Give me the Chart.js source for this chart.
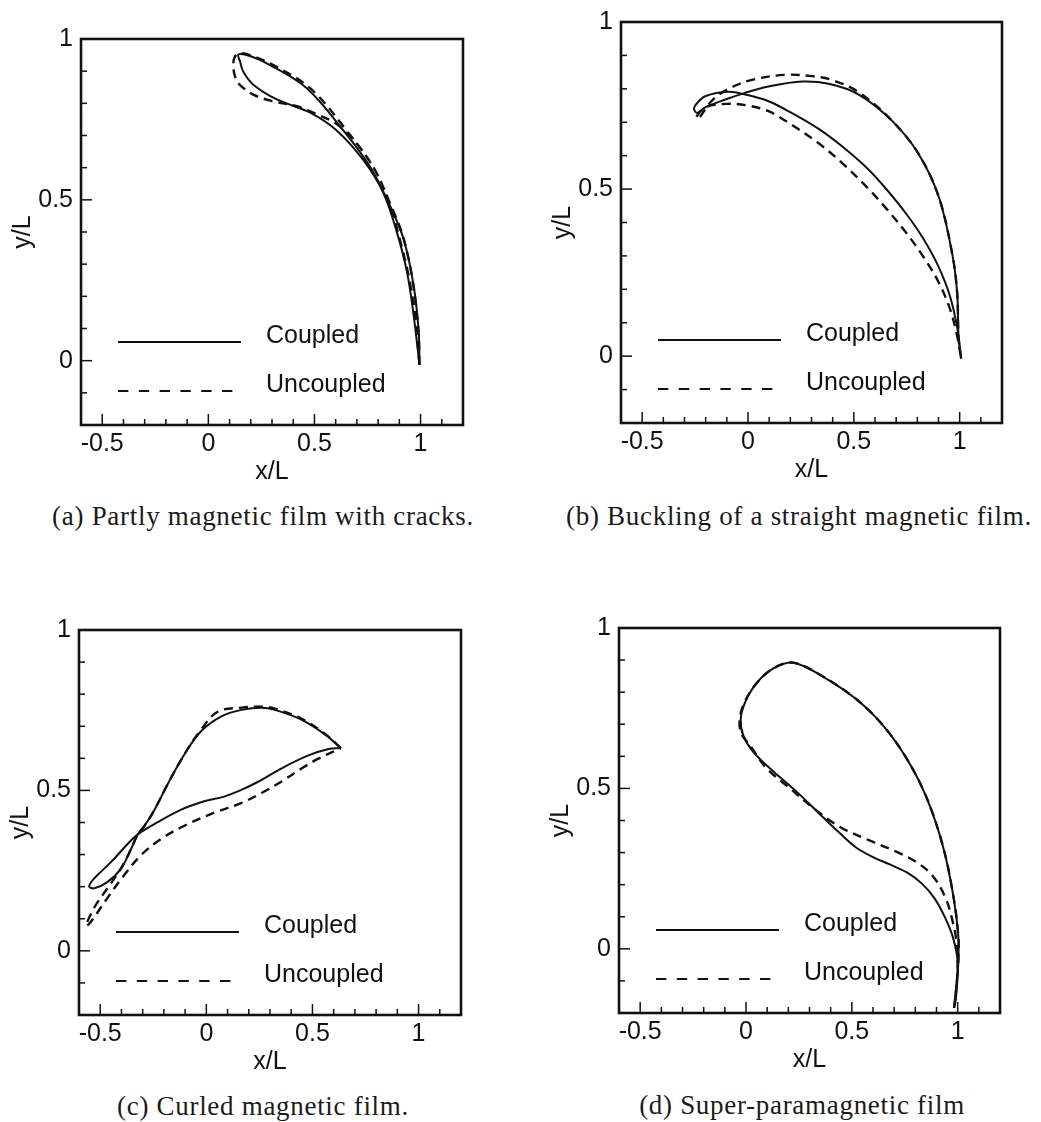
<!DOCTYPE html>
<html>
<head>
<meta charset="utf-8">
<script src="https://cdn.jsdelivr.net/npm/chart.js@4.4.0/dist/chart.umd.min.js"></script>
<style>
  body { margin: 0; background: #fff; }
  #page { position: relative; width: 1041px; height: 1122px; overflow: hidden; background: #fff; }
  #page canvas { position: absolute; }
  .caption {
    position: absolute;
    transform: translate(-50%, -50%);
    white-space: nowrap;
    font-family: 'Liberation Serif', 'DejaVu Serif', serif;
    font-size: 27px;
    letter-spacing: 0.7px;
    color: #1a1a1a;
  }
</style>
</head>
<body>
<div id="page">
  <canvas id="chartA"></canvas>
  <canvas id="chartB"></canvas>
  <canvas id="chartC"></canvas>
  <canvas id="chartD"></canvas>
  <div class="caption" id="capA" style="left:263px; top:516px;"></div>
  <div class="caption" id="capB" style="left:799px; top:516px;"></div>
  <div class="caption" id="capC" style="left:263px; top:1106px;"></div>
  <div class="caption" id="capD" style="left:802px; top:1105px;"></div>
</div>
<script>
// labels
const seriesLabels = ['Coupled', 'Uncoupled'];
const xTickValues = [-0.5, 0, 0.5, 1];
const xTickLabels = ['-0.5', '0', '0.5', '1'];
const yTickValues = [0, 0.5, 1];
const yTickLabels = ['0', '0.5', '1'];
const captions = [
    '(a) Partly magnetic film with cracks.',
    '(b) Buckling of a straight magnetic film.',
    '(c) Curled magnetic film.',
    '(d) Super-paramagnetic film'
];

// (a) partly magnetic film with cracks - [x/L, y/L]
const coupledA = [
    [0.995, -0.013], [0.991, 0.092], [0.967, 0.235], [0.920, 0.378], [0.857, 0.480],
    [0.763, 0.602], [0.637, 0.715], [0.464, 0.847], [0.291, 0.919], [0.197, 0.947],
    [0.142, 0.952], [0.150, 0.929], [0.165, 0.898], [0.212, 0.858], [0.323, 0.812],
    [0.480, 0.771], [0.606, 0.715], [0.731, 0.623], [0.825, 0.521], [0.889, 0.398],
    [0.936, 0.276], [0.967, 0.143], [0.995, -0.013]
];
const uncoupledA = [
    [0.995, -0.013], [0.990, 0.092], [0.966, 0.235], [0.921, 0.378], [0.862, 0.480],
    [0.777, 0.602], [0.652, 0.715], [0.480, 0.847], [0.300, 0.921], [0.200, 0.949],
    [0.142, 0.955], [0.122, 0.940], [0.118, 0.915], [0.125, 0.885], [0.145, 0.860],
    [0.212, 0.827], [0.307, 0.806], [0.417, 0.791], [0.511, 0.766], [0.606, 0.735],
    [0.700, 0.674], [0.794, 0.582], [0.857, 0.480], [0.905, 0.370], [0.948, 0.250],
    [0.977, 0.120], [0.995, -0.013]
];

// (b) buckling of a straight magnetic film
const coupledB = [
    [1.007, -0.007], [0.995, 0.053], [0.988, 0.191], [0.964, 0.309], [0.901, 0.477],
    [0.806, 0.605], [0.681, 0.704], [0.523, 0.783], [0.381, 0.815], [0.255, 0.822],
    [0.097, 0.807], [-0.013, 0.788], [-0.107, 0.768], [-0.200, 0.745], [-0.240, 0.728],
    [-0.255, 0.740], [-0.241, 0.757], [-0.202, 0.778], [-0.092, 0.791], [-0.013, 0.783],
    [0.097, 0.763], [0.200, 0.730], [0.334, 0.680], [0.450, 0.625], [0.570, 0.558],
    [0.660, 0.495], [0.750, 0.424], [0.830, 0.350], [0.900, 0.268], [0.955, 0.178],
    [0.990, 0.080], [1.007, -0.007]
];
const uncoupledB = [
    [1.007, -0.007], [0.995, 0.053], [0.988, 0.191], [0.964, 0.309], [0.901, 0.477],
    [0.806, 0.605], [0.681, 0.704], [0.523, 0.790], [0.400, 0.826], [0.302, 0.838],
    [0.176, 0.842], [0.019, 0.827], [-0.092, 0.800], [-0.170, 0.765], [-0.235, 0.710],
    [-0.245, 0.715], [-0.200, 0.745], [-0.100, 0.755], [0.000, 0.750], [0.097, 0.733],
    [0.200, 0.695], [0.334, 0.637], [0.450, 0.575], [0.570, 0.500], [0.660, 0.437],
    [0.750, 0.367], [0.830, 0.296], [0.900, 0.222], [0.955, 0.140], [0.990, 0.055],
    [1.007, -0.007]
];

// (c) curled magnetic film
const coupledC = [
    [0.634, 0.632], [0.560, 0.674], [0.450, 0.720], [0.323, 0.751], [0.260, 0.758],
    [0.166, 0.751], [0.071, 0.731], [-0.024, 0.685], [-0.103, 0.613], [-0.181, 0.521],
    [-0.244, 0.440], [-0.292, 0.389], [-0.323, 0.363], [-0.355, 0.317], [-0.402, 0.256],
    [-0.465, 0.215], [-0.528, 0.195], [-0.552, 0.200], [-0.536, 0.220], [-0.497, 0.246],
    [-0.434, 0.287], [-0.371, 0.333], [-0.323, 0.363], [-0.229, 0.401], [-0.118, 0.440],
    [-0.010, 0.466], [0.080, 0.480], [0.160, 0.500], [0.244, 0.527], [0.355, 0.569],
    [0.481, 0.609], [0.576, 0.629], [0.634, 0.632]
];
const uncoupledC = [
    [0.634, 0.632], [0.560, 0.676], [0.450, 0.723], [0.323, 0.755], [0.260, 0.761],
    [0.166, 0.758], [0.055, 0.746], [-0.024, 0.690], [-0.103, 0.613], [-0.181, 0.521],
    [-0.244, 0.440], [-0.292, 0.389], [-0.323, 0.363], [-0.360, 0.310], [-0.402, 0.257],
    [-0.465, 0.196], [-0.528, 0.135], [-0.568, 0.078], [-0.555, 0.082], [-0.528, 0.105],
    [-0.465, 0.166], [-0.386, 0.237], [-0.308, 0.298], [-0.213, 0.349], [-0.103, 0.390],
    [0.039, 0.431], [0.166, 0.461], [0.260, 0.492], [0.355, 0.528], [0.450, 0.569],
    [0.528, 0.599], [0.634, 0.632]
];

// (d) super-paramagnetic film
const coupledD = [
    [0.983, -0.184], [0.995, -0.110], [1.003, -0.040], [1.003, 0.040], [0.980, 0.163],
    [0.932, 0.316], [0.854, 0.470], [0.759, 0.593], [0.649, 0.695], [0.523, 0.777],
    [0.365, 0.848], [0.224, 0.892], [0.129, 0.874], [0.050, 0.828], [-0.005, 0.767],
    [-0.025, 0.715], [-0.013, 0.665], [0.035, 0.613], [0.131, 0.552], [0.239, 0.490],
    [0.350, 0.419], [0.444, 0.360], [0.520, 0.316], [0.600, 0.286], [0.680, 0.263],
    [0.760, 0.238], [0.830, 0.204], [0.890, 0.158], [0.940, 0.098], [0.978, 0.035],
    [1.000, -0.041], [0.992, -0.154], [0.983, -0.184]
];
const uncoupledD = [
    [0.983, -0.184], [0.995, -0.110], [1.003, -0.040], [1.003, 0.040], [0.980, 0.163],
    [0.932, 0.316], [0.854, 0.470], [0.759, 0.593], [0.649, 0.695], [0.523, 0.777],
    [0.365, 0.848], [0.224, 0.892], [0.129, 0.874], [0.050, 0.828], [-0.008, 0.767],
    [-0.030, 0.715], [-0.022, 0.670], [0.019, 0.634], [0.098, 0.562], [0.208, 0.500],
    [0.318, 0.439], [0.444, 0.380], [0.586, 0.337], [0.712, 0.302], [0.806, 0.270],
    [0.885, 0.225], [0.945, 0.155], [0.978, 0.081], [0.995, 0.020], [1.000, -0.050],
    [0.990, -0.150], [0.983, -0.184]
];

Chart.defaults.font.family = "'Liberation Sans', Arial, sans-serif";
Chart.defaults.font.size = 25;
Chart.defaults.color = '#111';

const INK = '#111';
const PAD_TOP = 18, PAD_RIGHT = 20, Y_AXIS_W = 81, X_AXIS_H = 62;

function toPoints(arr) {
    return arr.map(p => ({ x: p[0], y: p[1] }));
}

function labelFor(v, values, labels) {
    const i = values.findIndex(t => Math.abs(t - v) < 1e-6);
    return i >= 0 ? labels[i] : '';
}

function isMajor(v) {
    return Math.abs(v * 2 - Math.round(v * 2)) < 1e-6;
}

// box, inward ticks and the legend inside the plot
const framePlugin = {
    id: 'frame',
    afterDraw(chart) {
        const { ctx, chartArea: a, scales } = chart;
        ctx.save();
        ctx.strokeStyle = INK;
        ctx.fillStyle = INK;

        ctx.lineWidth = 1.5;
        scales.x.ticks.forEach(t => {
            const px = scales.x.getPixelForValue(t.value);
            ctx.beginPath();
            ctx.moveTo(px, a.bottom);
            ctx.lineTo(px, a.bottom - (isMajor(t.value) ? 11 : 6));
            ctx.stroke();
        });
        scales.y.ticks.forEach(t => {
            const py = scales.y.getPixelForValue(t.value);
            ctx.beginPath();
            ctx.moveTo(a.left, py);
            ctx.lineTo(a.left + (isMajor(t.value) ? 11 : 6), py);
            ctx.stroke();
        });

        ctx.lineWidth = 2.6;
        ctx.strokeRect(a.left, a.top, a.right - a.left, a.bottom - a.top);

        const rows = [a.bottom - 83, a.bottom - 34];
        ctx.font = "25px 'Liberation Sans', Arial, sans-serif";
        ctx.textBaseline = 'middle';
        chart.data.datasets.forEach((ds, i) => {
            ctx.lineWidth = 2;
            ctx.setLineDash(i ? [10.4, 10.4] : []);
            ctx.beginPath();
            ctx.moveTo(a.left + 37, rows[i]);
            ctx.lineTo(a.left + (i ? 152 : 160), rows[i]);
            ctx.stroke();
            ctx.setLineDash([]);
            ctx.fillText(ds.label, a.left + 185, rows[i] - 6);
        });
        ctx.restore();
    }
};

function makeChart(id, box, coupled, uncoupled) {
    const canvas = document.getElementById(id);
    canvas.width = Y_AXIS_W + (box.r - box.l) + PAD_RIGHT;
    canvas.height = PAD_TOP + (box.b - box.t) + X_AXIS_H;
    canvas.style.left = (box.l - Y_AXIS_W) + 'px';
    canvas.style.top = (box.t - PAD_TOP) + 'px';

    return new Chart(canvas.getContext('2d'), {
        type: 'scatter',
        data: {
            datasets: [{
                label: seriesLabels[0],
                data: toPoints(coupled),
                showLine: true,
                borderColor: INK,
                borderWidth: 2,
                pointRadius: 0,
                tension: 0.35,
                fill: false
            }, {
                label: seriesLabels[1],
                data: toPoints(uncoupled),
                showLine: true,
                borderColor: INK,
                borderWidth: 2.4,
                borderDash: [9, 6],
                pointRadius: 0,
                tension: 0.35,
                fill: false
            }]
        },
        options: {
            responsive: false,
            animation: false,
            devicePixelRatio: 1,
            layout: { padding: { top: PAD_TOP, right: PAD_RIGHT, left: 0, bottom: 0 } },
            plugins: {
                legend: { display: false },
                tooltip: { enabled: false }
            },
            scales: {
                x: {
                    type: 'linear',
                    min: -0.6,
                    max: 1.2,
                    grid: { display: false, drawTicks: false },
                    border: { display: false },
                    ticks: {
                        stepSize: 0.1,
                        autoSkip: false,
                        maxRotation: 0,
                        padding: 4,
                        callback: v => labelFor(v, xTickValues, xTickLabels)
                    },
                    title: { display: true, text: 'x/L', padding: { top: 4, bottom: 0 } },
                    afterFit: s => { s.height = X_AXIS_H; }
                },
                y: {
                    type: 'linear',
                    min: -0.2,
                    max: 1,
                    grid: { display: false, drawTicks: false },
                    border: { display: false },
                    ticks: {
                        stepSize: 0.1,
                        autoSkip: false,
                        padding: 8,
                        callback: v => labelFor(v, yTickValues, yTickLabels)
                    },
                    title: { display: true, text: 'y/L', padding: { top: 8, bottom: 0 } },
                    afterFit: s => { s.width = Y_AXIS_W; }
                }
            }
        },
        plugins: [framePlugin]
    });
}

makeChart('chartA', { l: 81, r: 463, t: 34, b: 425 }, coupledA, uncoupledA);
makeChart('chartB', { l: 621, r: 1002, t: 17, b: 423 }, coupledB, uncoupledB);
makeChart('chartC', { l: 79, r: 461, t: 625, b: 1015 }, coupledC, uncoupledC);
makeChart('chartD', { l: 619, r: 1000, t: 623, b: 1013 }, coupledD, uncoupledD);

['capA', 'capB', 'capC', 'capD'].forEach((id, i) => {
    document.getElementById(id).textContent = captions[i];
});
</script>
</body>
</html>
